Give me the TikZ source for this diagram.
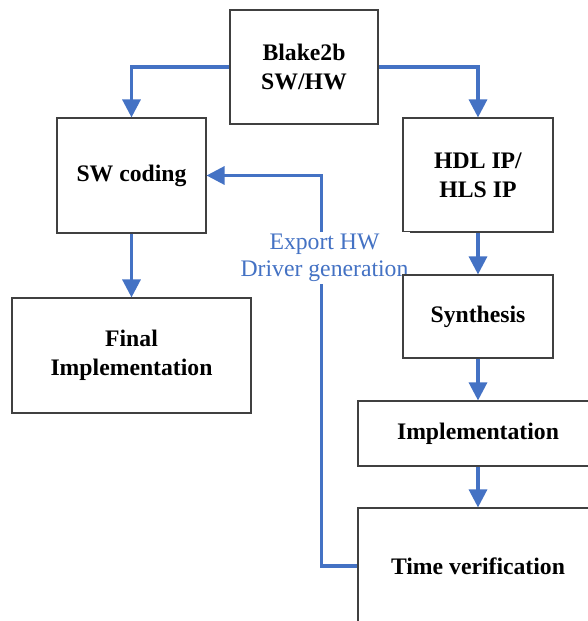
\documentclass[tikz,border=0pt]{standalone}
\usepackage{fontspec}
\setmainfont{Liberation Serif}
\usetikzlibrary{arrows.meta}
\definecolor{flowblue}{HTML}{4472C4}
\definecolor{boxgray}{HTML}{404040}
\tikzset{
  box/.style={draw=boxgray, line width=1.1pt, align=center, inner sep=2pt,
    font=\fontsize{23.7}{29}\selectfont\bfseries},
  flow/.style={draw=flowblue, line width=3.2pt,
    -{Triangle[length=18pt,width=18pt]}},
  loopnote/.style={fill=white, text=flowblue, align=center, inner sep=2pt,
    font=\fontsize{23.7}{27}\selectfont}
}
\begin{document}
\begin{tikzpicture}[x=1pt,y=-1pt]

		\useasboundingbox (0,0) rectangle (587,621);

		% Topo
		\node[box, minimum width=148pt, minimum height=114pt] (blake) at (304,67) {Blake2b\\SW/HW};

		% Lado SW
		\node[box, minimum width=149pt, minimum height=115pt] (sw) at (131.5,175.5) {SW coding};
		\node[box, minimum width=239pt, minimum height=115pt] (final) at (131.5,355.5) {Final\\Implementation};

		% Lado HW
		\node[box, minimum width=150pt, minimum height=114pt] (hdl) at (478,175) {HDL IP/\\HLS IP};
		\node[box, minimum width=240pt, minimum height=65pt] (impl) at (478,433.5) {Implementation};
		\node[box, minimum width=240pt, minimum height=116pt] (timev) at (478,566) {Time verification};

		% Retorno com texto
		\draw[flow] (timev.west) -- ++(-36,0) |- (sw.east);
		\node[loopnote] (note) at (324.5,258) {Export HW\\Driver generation};

		\node[box, minimum width=150pt, minimum height=83pt] (synth) at (478,316.5) {Synthesis};

		% Setas
		\draw[flow] (blake.west) -| (sw.north);
		\draw[flow] (blake.east) -| (hdl.north);
		\draw[flow] (sw.south) -- (final.north);
		\draw[flow] (hdl.south) -- (synth.north);
		\draw[flow] (synth.south) -- (impl.north);
		\draw[flow] (impl.south) -- (timev.north);

\end{tikzpicture}
\end{document}
